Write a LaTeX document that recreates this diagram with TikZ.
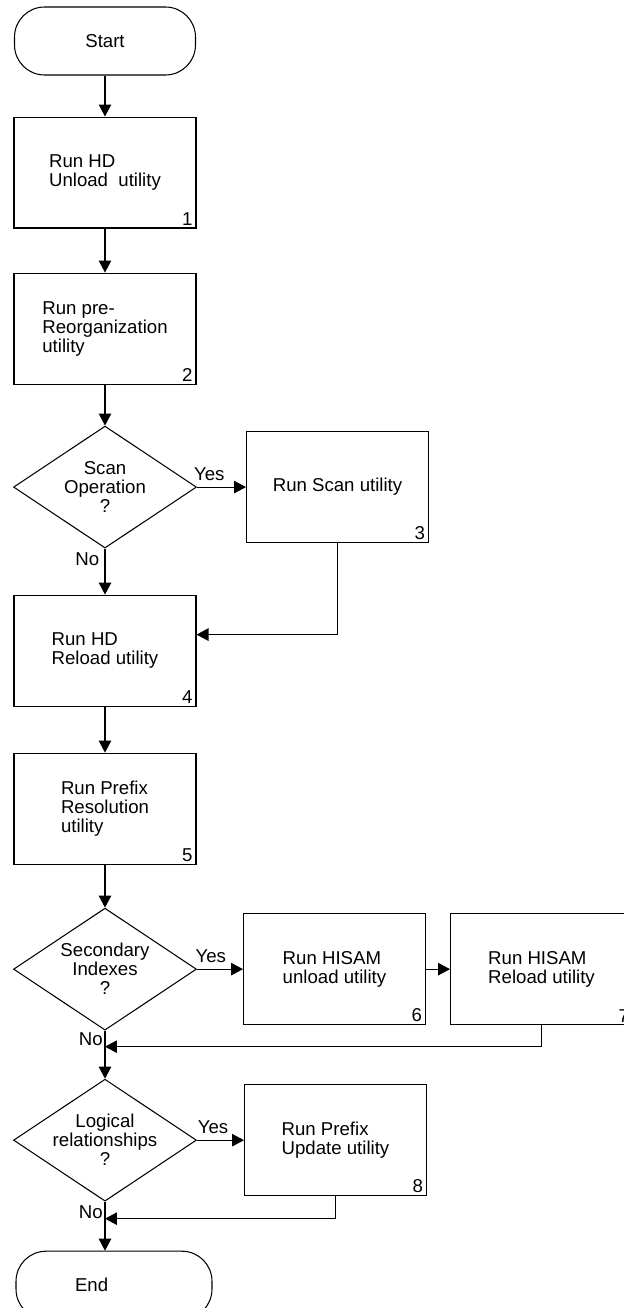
\documentclass[tikz,border=0pt]{standalone}
\usepackage{fontspec}
\setmainfont{Liberation Sans}
\usetikzlibrary{shapes.geometric, arrows.meta, positioning}

\begin{document}
\begin{tikzpicture}[
  x=0.02cm, y=-0.02cm,
  font=\fontsize{10.6}{10.8}\selectfont,
  line width=0.6pt,
  box/.style={rectangle, draw, minimum width=3.64cm, minimum height=2.22cm,
              align=left, inner sep=0pt},
  termbox/.style={rectangle, draw, rounded corners=0.6cm, minimum height=1.36cm,
                  align=center},
  decbox/.style={diamond, draw, aspect=1.5, minimum width=3.66cm,
                 minimum height=2.44cm, inner sep=0pt, align=center},
  numlab/.style={anchor=south east, inner xsep=2pt, inner ysep=1.5pt},
  yeslab/.style={above, pos=0.3},
  nolab/.style={left, inner sep=1pt},
  arrow/.style={-{Triangle[length=2.4mm, width=2.5mm]}}
]
\useasboundingbox (0,0) rectangle (623,1308);

% main column
\node[termbox, minimum width=3.62cm] (start) at (105,41) {Start};
\node[box, below=0.82cm of start, label={[numlab]south east:1}] (hdunload) {Run HD\\Unload~ utility};
\node[box, below=0.88cm of hdunload, label={[numlab]south east:2}] (prereorg) {Run pre-\\Reorganization\\utility};
\node[decbox, below=0.82cm of prereorg] (scanop) {Scan\\Operation\\?};
\node[box, below=0.92cm of scanop, label={[numlab]south east:4}] (hdreload) {Run HD\\Reload utility};
\node[box, below=0.92cm of hdreload, label={[numlab]south east:5}] (prefres) {Run Prefix\\Resolution\\utility};
\node[decbox, below=0.86cm of prefres] (secidx) {Secondary\\Indexes\\?};
\node[decbox, below=0.96cm of secidx] (logrel) {Logical\\relationships\\?};
\node[termbox, minimum width=3.92cm, text width=1.56cm, align=left,
      below=0.98cm of logrel, xshift=0.18cm] (stop) {End};

% side branches
\node[box, right=0.98cm of scanop, label={[numlab]south east:3}] (scan) {Run Scan utility};
\node[box, right=0.92cm of secidx, label={[numlab]south east:6}] (hunload) {Run HISAM\\unload utility};
\node[box, right=0.48cm of hunload, label={[numlab]south east:7}] (hreload) {Run HISAM\\Reload utility};
\node[box, right=0.94cm of logrel, label={[numlab]south east:8}] (prefupd) {Run Prefix\\Update utility};

\coordinate (jn1) at ([yshift=-0.32cm]secidx.south);
\coordinate (jn2) at ([yshift=-0.34cm]logrel.south);

\draw[arrow] (start) -- (hdunload);
\draw[arrow] (hdunload) -- (prereorg);
\draw[arrow] (prereorg) -- (scanop);
\draw[arrow] (scanop.east) -- node[yeslab, pos=0.25] {Yes} (scan.west);
\draw[arrow] (scanop.south) -- node[nolab, pos=0.24, inner sep=3pt] {No} (hdreload.north);
\draw[arrow] (scan.south) |- ([yshift=0.32cm]hdreload.east);
\draw[arrow] (hdreload) -- (prefres);
\draw[arrow] (prefres) -- (secidx);
\draw[arrow] (secidx.east) -- node[yeslab] {Yes} (hunload.west);
\draw[arrow] (hunload) -- (hreload);
\draw[arrow] (hreload.south) |- (jn1);
\draw[arrow] (secidx.south) -- node[nolab, pos=0.17] {No} (logrel.north);
\draw[arrow] (logrel.east) -- node[yeslab, pos=0.34] {Yes} (prefupd.west);
\draw[arrow] (prefupd.south) |- (jn2);
\draw[arrow] (logrel.south) -- node[nolab, pos=0.22] {No} (logrel.south |- stop.north);
\end{tikzpicture}
\end{document}
